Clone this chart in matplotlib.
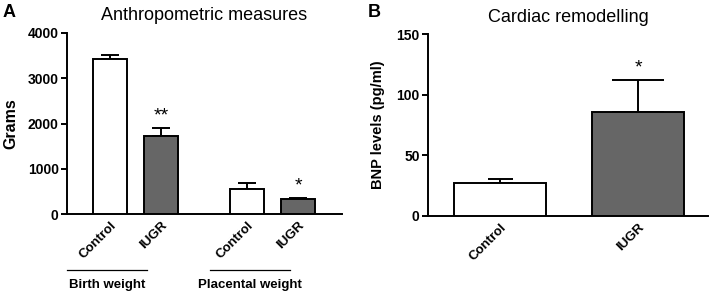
import matplotlib
matplotlib.use("Agg")
import matplotlib.pyplot as plt

plt.rcParams['font.family'] = ['Liberation Sans', 'DejaVu Sans']

# Panel A data (grams)
a_labels = ["Control", "IUGR", "Control", "IUGR"]
a_values = [3430, 1730, 560, 325]
a_errors = [90, 175, 120, 25]
a_colors = ["white", "#666666", "white", "#666666"]
a_stars = ["", "**", "", "*"]
a_groups = ["Birth weight", "Placental weight"]

# Panel B data (pg/ml)
b_labels = ["Control", "IUGR"]
b_values = [27, 86]
b_errors = [3, 26]
b_colors = ["white", "#666666"]
b_stars = ["", "*"]

fig = plt.figure(figsize=(7.09, 2.91), dpi=100)
axA = fig.add_axes([0.0945, 0.2646, 0.388, 0.622])
axB = fig.add_axes([0.6037, 0.2588, 0.395, 0.624])

def style(ax):
    for s in ["top", "right"]:
        ax.spines[s].set_visible(False)
    for s in ["left", "bottom"]:
        ax.spines[s].set_linewidth(1.4)
    ax.tick_params(axis="y", width=1.4, length=4, labelsize=10, pad=2)
    ax.tick_params(axis="x", length=0, labelsize=9.5, pad=4)
    for lab in ax.get_yticklabels():
        lab.set_fontweight("bold")

# Panel A
posA = [1, 2, 3.69, 4.69]
axA.bar(posA, a_values, width=0.667, color=a_colors, edgecolor="black", linewidth=1.4, zorder=3)
for x, v, e in zip(posA, a_values, a_errors):
    axA.errorbar(x, v, yerr=[[0], [e]], fmt="none", ecolor="black", elinewidth=1.4,
                 capsize=6.5, capthick=1.4, zorder=2)
for x, v, e, s in zip(posA, a_values, a_errors, a_stars):
    if s:
        axA.text(x, v + e + 80, s, ha="center", va="bottom", fontsize=14)
axA.set_xlim(0.157, 5.55)
axA.set_ylim(0, 4000)
axA.set_yticks([0, 1000, 2000, 3000, 4000])
axA.set_xticks(posA)
axA.set_xticklabels(a_labels, rotation=45, ha="right", rotation_mode="anchor",
                    fontweight="bold")
axA.set_ylabel("Grams", fontweight="bold", fontsize=11.5)
axA.yaxis.set_label_coords(-0.178, 0.5)
axA.set_title("Anthropometric measures", fontsize=13, pad=9)
style(axA)

# group underlines
trA = axA.get_xaxis_transform()
for (x0, x1), name in zip([(0.157, 1.725), (2.96, 4.53)], a_groups):
    axA.plot([x0, x1], [-0.31, -0.31], transform=trA, color="black", lw=0.9, clip_on=False)
    axA.text((x0 + x1) / 2, -0.36, name, transform=trA, ha="center", va="top",
             fontsize=9.5, fontweight="bold")

# Panel B
posB = [1, 2]
axB.bar(posB, b_values, width=0.667, color=b_colors, edgecolor="black", linewidth=1.4, zorder=3)
for x, v, e, cs in zip(posB, b_values, b_errors, [9, 19]):
    axB.errorbar(x, v, yerr=[[0], [e]], fmt="none", ecolor="black", elinewidth=1.4,
                 capsize=cs, capthick=1.4, zorder=2)
for x, v, e, s in zip(posB, b_values, b_errors, b_stars):
    if s:
        axB.text(x, v + e + 3, s, ha="center", va="bottom", fontsize=14)
axB.set_xlim(0.48, 2.507)
axB.set_ylim(0, 150)
axB.set_yticks([0, 50, 100, 150])
axB.set_xticks(posB)
axB.set_xticklabels(b_labels, rotation=45, ha="right", rotation_mode="anchor",
                    fontweight="bold")
axB.set_ylabel("BNP levels (pg/ml)", fontweight="bold", fontsize=10.5)
axB.yaxis.set_label_coords(-0.155, 0.5)
axB.set_title("Cardiac remodelling", fontsize=13, pad=9)
style(axB)

fig.text(0.004, 0.985, "A", fontsize=13, fontweight="bold", va="top")
fig.text(0.518, 0.985, "B", fontsize=13, fontweight="bold", va="top")

fig.savefig("out.png", dpi=100)
